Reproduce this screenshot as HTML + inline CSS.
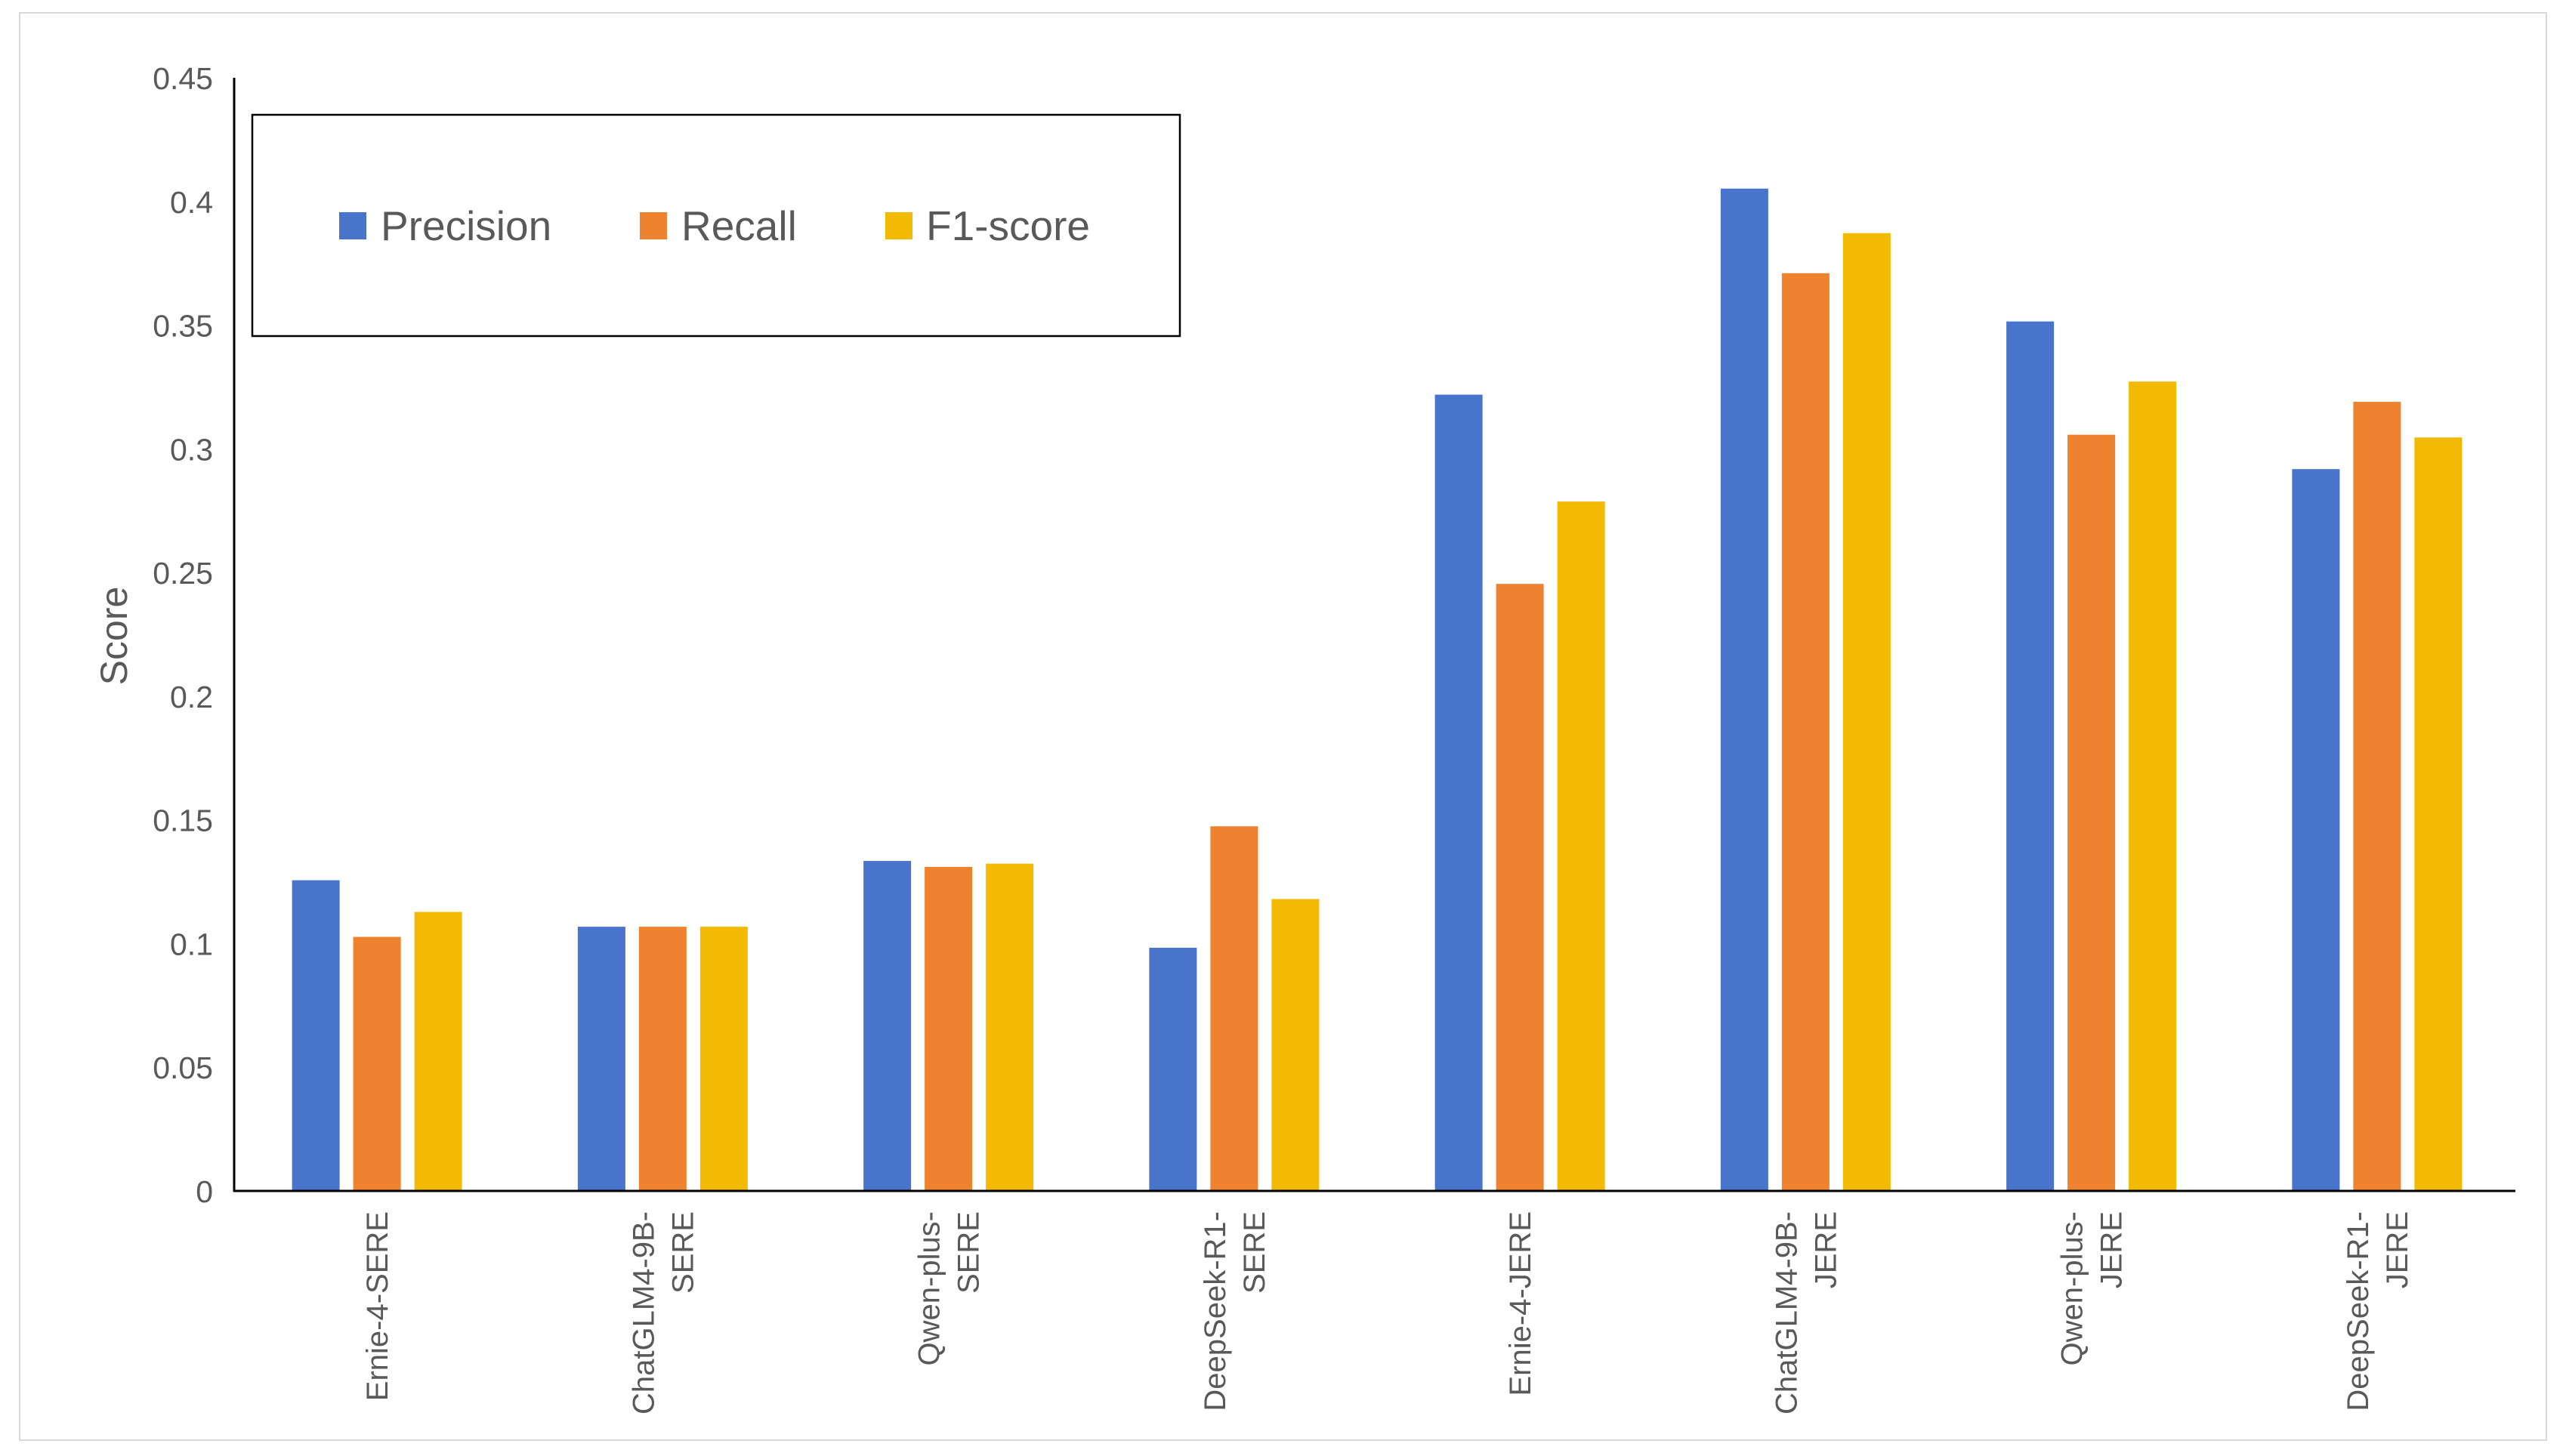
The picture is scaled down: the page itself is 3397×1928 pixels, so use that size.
<!DOCTYPE html>
<html><head><meta charset="utf-8"><style>
html,body{margin:0;padding:0;background:#fff;}
svg{display:block;font-family:"Liberation Sans",Arial,sans-serif;}
</style></head><body>
<svg id="chart" width="3397" height="1928" viewBox="0 0 3397 1928">
<rect x="26" y="17" width="3345" height="1890" fill="#fff" stroke="#d9d9d9" stroke-width="2"/>
<g id="ticks"></g>
<g id="bars"></g>
<g id="xlabels"></g>
<line x1="310" y1="103" x2="310" y2="1578" stroke="#000" stroke-width="3"/>
<line x1="309" y1="1577" x2="3330" y2="1577" stroke="#000" stroke-width="3"/>
<text x="0" y="0" transform="translate(168,842) rotate(-90)" text-anchor="middle" font-size="50" fill="#595959">Score</text>
<g>
<rect x="334" y="152" width="1228" height="293" fill="#fff" stroke="#000" stroke-width="2.5"/>
<rect x="449" y="281" width="36" height="36" fill="#4874CB"/>
<text x="504" y="318" font-size="55" fill="#595959">Precision</text>
<rect x="847" y="281" width="36" height="36" fill="#EE822F"/>
<text x="902" y="318" font-size="55" fill="#595959">Recall</text>
<rect x="1172" y="281" width="36" height="36" fill="#F2BA02"/>
<text x="1226" y="318" font-size="55" fill="#595959">F1-score</text>
</g>
</svg>
<script>
const categories = [["Ernie-4-SERE"],["ChatGLM4-9B-","SERE"],["Qwen-plus-","SERE"],["DeepSeek-R1-","SERE"],["Ernie-4-JERE"],["ChatGLM4-9B-","JERE"],["Qwen-plus-","JERE"],["DeepSeek-R1-","JERE"]];
const precision = [0.1256,0.1068,0.1334,0.0983,0.3219,0.4052,0.3515,0.2918];
const recall = [0.1027,0.1068,0.131,0.1474,0.2454,0.371,0.3057,0.319];
const f1 = [0.1128,0.1068,0.1323,0.118,0.2787,0.3872,0.3272,0.3046];
const yTicks = [0,0.05,0.1,0.15,0.2,0.25,0.3,0.35,0.4,0.45];
const tickLabels = ["0","0.05","0.1","0.15","0.2","0.25","0.3","0.35","0.4","0.45"];

const NS="http://www.w3.org/2000/svg";
const X0=310,X1=3336,Y0=1577,Y1=103,YMAX=0.45;
const yScale=v=>Y0-(v/YMAX)*(Y0-Y1);
const band=(X1-X0)/categories.length;
const xCenter=i=>X0+band*(i+0.5);
function mk(t,a){const e=document.createElementNS(NS,t);for(const k in a)e.setAttribute(k,a[k]);return e;}
const gT=document.getElementById('ticks'),gB=document.getElementById('bars'),gX=document.getElementById('xlabels');
yTicks.forEach((v,i)=>{
  const t=mk('text',{x:282,y:yScale(v)+15,'text-anchor':'end','font-size':'41',fill:'#595959'});
  
  
  t.textContent=tickLabels[i];gT.appendChild(t);
});
const series=[{d:precision,c:'#4874CB',n:'precision'},{d:recall,c:'#EE822F',n:'recall'},{d:f1,c:'#F2BA02',n:'f1'}];
const bw=63,step=81;
categories.forEach((cat,i)=>{
  series.forEach((s,j)=>{
    const cx=xCenter(i)+(j-1)*step;
    const y=yScale(s.d[i]);
    const r=mk('rect',{x:cx-bw/2,y:y,width:bw,height:Y0-y,fill:s.c});
    
    
    gB.appendChild(r);
  });
  const n=cat.length;
  cat.forEach((line,k)=>{
    const lx=xCenter(i)+(k-(n-1)/2)*52+14;
    const t=mk('text',{transform:'translate('+lx+',1604) rotate(-90)','text-anchor':'end','font-size':'40',fill:'#595959'});
    
    
    t.textContent=line;gX.appendChild(t);
  });
});
</script>
</body></html>
